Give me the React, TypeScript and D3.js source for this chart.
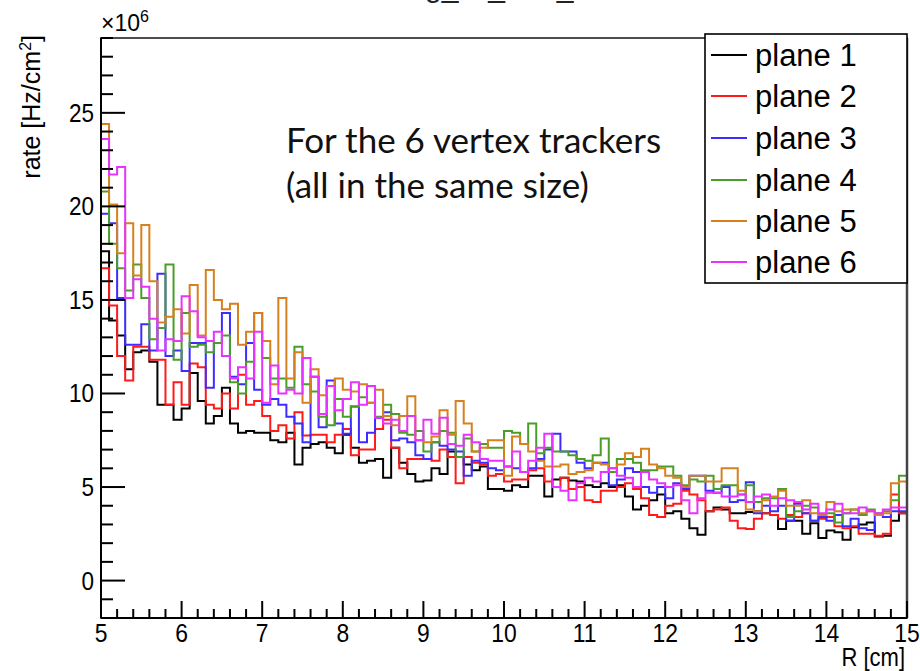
import React from 'react';
import * as d3 from 'd3';

const X_MIN = 5;
const X_MAX = 15;
const Y_MIN = -2;
const Y_MAX = 29;
const BIN_WIDTH = 0.1;
const X_MAJOR_TICKS = [5, 6, 7, 8, 9, 10, 11, 12, 13, 14, 15];
const Y_MAJOR_TICKS = [0, 5, 10, 15, 20, 25];
const Y_TICK_LABELS = ['0', '5', '10', '15', '20', '25'];
const SERIES_NAMES = ['plane 1', 'plane 2', 'plane 3', 'plane 4', 'plane 5', 'plane 6'];
const SERIES_COLORS = ['#000000', '#ff1a1a', '#3d2cff', '#4a9e28', '#d7801f', '#e832ff'];

// values in units of 1e6 Hz/cm^2, 100 bins of 0.1 cm from R = 5 to 15
const plane1 = [
  17.6, 13.9, 13.1, 11.3, 12.2, 12.3, 11.7, 9.4, 9.4, 8.6, 9.2, 11.1, 9.6, 8.4, 8.8, 10.3, 8.4, 7.9, 8.0, 7.9,
  7.9, 7.5, 7.4, 7.9, 6.2, 7.1, 7.3, 7.4, 7.1, 6.8, 7.8, 7.1, 6.3, 6.4, 6.5, 5.5, 7.1, 6.3, 5.7, 5.3,
  5.35, 6.0, 5.7, 6.9, 6.6, 6.2, 5.9, 6.1, 4.9, 4.9, 4.8, 5.1, 5.0, 5.6, 5.6, 4.5, 5.4, 5.5, 5.35, 5.3,
  5.1, 5.0, 5.2, 5.0, 5.1, 4.5, 3.8, 4.0, 4.3, 4.6, 3.6, 3.7, 3.3, 2.8, 2.45, 3.7, 3.9, 3.8, 3.6, 3.6,
  3.66, 3.7, 3.6, 3.5, 2.76, 3.2, 3.2, 2.5, 3.07, 2.28, 2.68, 2.58, 2.18, 2.85, 3.0, 3.1, 2.35, 2.4, 3.2, 3.6,
];
const plane2 = [
  16.7, 14.7, 12.0, 10.7, 12.5, 12.5, 11.8, 11.8, 9.4, 10.6, 9.4, 11.6, 11.4, 9.4, 9.2, 10.0, 9.2, 11.0, 9.4, 9.6,
  8.8, 8.0, 8.3, 7.6, 9.0, 7.75, 7.8, 7.8, 7.4, 7.8, 8.1, 6.7, 7.0, 7.0, 8.1, 8.6, 7.1, 6.0, 6.5, 6.5,
  6.5, 6.4, 7.0, 6.6, 5.2, 6.6, 6.3, 6.2, 5.6, 5.7, 5.3, 5.4, 5.4, 5.9, 6.0, 5.3, 5.0, 5.5, 4.9, 5.0,
  4.3, 4.2, 4.8, 4.8, 5.0, 5.2, 4.9, 4.4, 3.5, 3.4, 4.0, 4.1, 4.8, 4.6, 4.3, 3.7, 3.8, 3.9, 3.2, 2.8,
  2.76, 3.3, 3.6, 3.5, 3.3, 3.5, 3.4, 3.6, 3.2, 3.3, 3.4, 2.9, 2.8, 2.9, 2.5, 2.5, 2.4, 2.5, 4.6, 3.6,
];
const plane3 = [
  19.6, 19.1, 15.1, 12.6, 12.6, 13.7, 12.3, 16.4, 12.0, 12.3, 11.2, 12.7, 12.7, 10.3, 12.7, 14.3, 10.9, 10.5, 12.7, 10.2,
  9.4, 9.7, 9.4, 8.75, 8.4, 7.4, 10.9, 8.2, 10.7, 8.4, 7.85, 9.3, 7.4, 7.9, 8.7, 9.0, 7.5, 7.6, 7.4, 6.7,
  6.5, 7.4, 7.2, 7.0, 6.9, 5.6, 6.4, 6.3, 6.0, 5.9, 6.1, 6.0, 5.8, 6.0, 6.5, 7.0, 7.85, 6.9, 6.9, 6.3,
  6.0, 6.3, 6.3, 5.1, 5.4, 6.0, 5.8, 5.0, 4.7, 5.0, 4.4, 5.2, 4.9, 5.6, 5.6, 4.8, 4.7, 5.0, 4.2, 4.3,
  5.26, 3.6, 4.0, 3.7, 4.0, 3.2, 4.1, 3.6, 3.2, 3.4, 3.2, 3.5, 2.9, 3.3, 2.8, 2.7, 3.5, 3.4, 3.7, 3.7,
];
const plane4 = [
  20.8, 18.0, 16.7, 15.5, 16.9, 15.1, 12.9, 13.5, 16.9, 11.8, 14.3, 12.5, 12.6, 12.2, 12.7, 13.1, 10.6, 10.0, 11.7, 14.3,
  11.9, 10.8, 10.8, 10.3, 12.5, 10.5, 10.1, 8.75, 8.3, 9.7, 8.75, 9.3, 9.8, 9.5, 8.75, 9.4, 8.9, 7.9, 7.8, 8.0,
  6.9, 7.4, 8.0, 7.9, 6.6, 7.6, 6.9, 7.3, 7.1, 7.1, 8.0, 7.9, 7.3, 8.4, 6.8, 7.1, 6.9, 6.9, 6.7, 6.5,
  6.4, 6.7, 7.6, 5.8, 6.5, 6.5, 6.3, 5.9, 5.9, 6.1, 6.1, 5.6, 5.1, 5.4, 5.3, 5.6, 4.9, 5.1, 5.1, 4.6,
  5.1, 4.2, 4.4, 4.4, 4.9, 3.4, 3.7, 4.0, 3.9, 3.5, 3.6, 3.1, 3.6, 3.8, 3.5, 3.8, 3.6, 3.7, 4.3, 5.6,
];
const plane5 = [
  24.4, 20.1, 17.5, 19.1, 16.3, 19.0, 16.0, 13.8, 14.1, 14.5, 13.2, 15.8, 13.1, 16.6, 15.0, 14.5, 14.8, 12.6, 13.3, 14.3,
  12.8, 10.5, 15.1, 10.8, 12.2, 9.5, 11.3, 9.9, 10.4, 10.8, 10.2, 10.1, 10.5, 9.5, 10.2, 8.8, 8.3, 8.8, 9.85, 7.5,
  7.4, 7.7, 9.1, 7.8, 9.6, 8.4, 6.9, 7.1, 7.5, 7.5, 5.6, 7.7, 7.3, 6.9, 6.4, 6.1, 6.1, 6.2, 5.7, 5.8,
  5.9, 6.3, 6.2, 6.0, 6.2, 6.8, 6.6, 7.05, 6.2, 6.0, 5.6, 5.5, 5.0, 5.6, 5.6, 5.3, 5.3, 6.0, 6.0, 4.8,
  3.8, 3.7, 4.3, 4.5, 4.8, 4.0, 4.0, 4.3, 3.6, 3.5, 4.2, 3.7, 3.8, 3.8, 3.6, 3.7, 3.5, 3.6, 5.2, 5.3,
];
const plane6 = [
  23.6, 21.7, 22.1, 15.1, 16.1, 15.7, 14.0, 12.3, 12.9, 12.8, 15.2, 14.4, 13.0, 12.8, 13.3, 12.0, 10.8, 11.4, 10.8, 13.3,
  9.5, 11.5, 10.0, 10.2, 10.0, 11.9, 10.9, 8.9, 10.4, 9.1, 9.7, 10.6, 9.4, 10.4, 8.7, 8.4, 8.6, 8.0, 8.8, 7.5,
  8.6, 7.85, 8.7, 7.3, 7.2, 7.8, 7.4, 6.5, 6.4, 6.4, 6.1, 6.9, 5.8, 6.4, 7.1, 7.85, 5.0, 4.8, 4.3, 5.2,
  5.5, 5.3, 5.8, 6.0, 5.6, 5.5, 5.0, 5.8, 5.4, 5.2, 5.0, 5.1, 4.3, 3.6, 4.4, 4.7, 4.7, 4.5, 4.5, 4.6,
  4.2, 4.5, 4.6, 4.0, 4.4, 4.3, 4.2, 3.8, 4.1, 3.6, 3.8, 4.1, 3.6, 3.6, 3.9, 3.7, 3.6, 3.8, 3.9, 3.9,
];
const SERIES = [plane1, plane2, plane3, plane4, plane5, plane6];

const W = 920;
const H = 671;
const FRAME = { left: 101, right: 907, top: 38, bottom: 618 };

export default function App() {
  const x = d3.scaleLinear().domain([X_MIN, X_MAX]).range([FRAME.left, FRAME.right]);
  const y = d3.scaleLinear().domain([Y_MIN, Y_MAX]).range([FRAME.bottom, FRAME.top]);

  const line = d3
    .line<[number, number]>()
    .x((d) => x(d[0]))
    .y((d) => y(d[1]))
    .curve(d3.curveStepAfter);

  const paths = SERIES.map((vals) => {
    const pts: [number, number][] = vals.map((v, i) => [X_MIN + i * BIN_WIDTH, v]);
    pts.push([X_MAX, vals[vals.length - 1]]);
    return line(pts) || '';
  });

  const xMinor = d3.range(X_MIN, X_MAX + 0.001, 0.2).filter((t) => Math.abs(t - Math.round(t)) > 0.01);
  const yMinor = d3.range(Y_MIN, Y_MAX + 0.001, 1).filter((t) => t % 5 !== 0);

  const font = 'Liberation Sans, Arial, Helvetica, sans-serif';
  const legendRows = [55, 96, 138, 180, 221, 262];

  return (
    <svg width={W} height={H} style={{ position: 'absolute', left: 0, top: 0, background: '#fff' }}>
      <rect x={0} y={0} width={W} height={H} fill="#ffffff" />
      {/* title, cut by the top edge as in the reference */}
      <text x={505} y={-3} textAnchor="middle" fontFamily={font} fontSize={30} fill="#222">
        rg_vs_rate_R
      </text>

      {/* histograms */}
      <g fill="none" strokeWidth={2}>
        {paths.map((d, i) => (
          <path key={i} d={d} stroke={SERIES_COLORS[i]} strokeLinejoin="miter" />
        ))}
      </g>

      {/* frame */}
      <rect
        x={FRAME.left}
        y={FRAME.top}
        width={FRAME.right - FRAME.left}
        height={FRAME.bottom - FRAME.top}
        fill="none"
        stroke="#222"
        strokeWidth={1.6}
      />
      <line x1={FRAME.left} x2={FRAME.left} y1={FRAME.top} y2={FRAME.bottom} stroke="#000" strokeWidth={2} />
      <line x1={FRAME.left} x2={FRAME.right} y1={FRAME.bottom} y2={FRAME.bottom} stroke="#000" strokeWidth={2} />
      <line x1={FRAME.right} x2={FRAME.right} y1={FRAME.top} y2={FRAME.bottom} stroke="#444" strokeWidth={2.5} />

      {/* y ticks */}
      <g stroke="#000" strokeWidth={2}>
        {Y_MAJOR_TICKS.map((t) => (
          <line key={'ym' + t} x1={FRAME.left} x2={FRAME.left + 24} y1={y(t)} y2={y(t)} />
        ))}
        {yMinor.map((t) => (
          <line key={'yn' + t} x1={FRAME.left} x2={FRAME.left + 12} y1={y(t)} y2={y(t)} />
        ))}
      </g>
      {Y_MAJOR_TICKS.map((t, i) => (
        <text
          key={'yl' + t}
          transform={`translate(${FRAME.left - 7},${y(t) + 9}) scale(0.9,1)`}
          textAnchor="end"
          fontFamily={font}
          fontSize={25}
          fill="#000"
        >
          {Y_TICK_LABELS[i]}
        </text>
      ))}

      {/* x ticks */}
      <g stroke="#000" strokeWidth={2}>
        {X_MAJOR_TICKS.map((t) => (
          <line key={'xm' + t} x1={x(t)} x2={x(t)} y1={FRAME.bottom} y2={FRAME.bottom - 17} />
        ))}
        {xMinor.map((t) => (
          <line key={'xn' + t.toFixed(1)} x1={x(t)} x2={x(t)} y1={FRAME.bottom} y2={FRAME.bottom - 9} />
        ))}
      </g>
      {X_MAJOR_TICKS.map((t) => (
        <text
          key={'xl' + t}
          transform={`translate(${x(t)},${FRAME.bottom + 24}) scale(0.88,1)`}
          textAnchor="middle"
          fontFamily={font}
          fontSize={26}
          fill="#000"
        >
          {String(t)}
        </text>
      ))}

      {/* axis titles */}
      <text
        transform={`translate(${FRAME.right - 2},${H - 5}) scale(0.88,1)`}
        textAnchor="end"
        fontFamily={font}
        fontSize={25}
        fill="#000"
      >
        R [cm]
      </text>
      <text
        transform={`translate(40,35) rotate(-90)`}
        textAnchor="end"
        fontFamily={font}
        fontSize={25}
        fill="#000"
      >
        rate [Hz/cm<tspan dy={-9} fontSize={16}>2</tspan>
        <tspan dy={9}>]</tspan>
      </text>
      <text x={FRAME.left} y={31} fontFamily={font} fontSize={23} fill="#000">
        ×10<tspan dy={-9} fontSize={16}>6</tspan>
      </text>

      {/* annotation */}
      <text x={286} y={153} fontFamily="Lato, 'Open Sans', sans-serif" fontSize={35} fill="#111">
        For the 6 vertex trackers
      </text>
      <text x={286} y={198} fontFamily="Lato, 'Open Sans', sans-serif" fontSize={35} fill="#111">
        (all in the same size)
      </text>

      {/* legend */}
      <rect x={705} y={34} width={202} height={249} fill="#fff" stroke="#000" strokeWidth={1.6} />
      {SERIES_NAMES.map((name, i) => (
        <g key={name}>
          <line x1={711} x2={747} y1={legendRows[i]} y2={legendRows[i]} stroke={SERIES_COLORS[i]} strokeWidth={2} />
          <text x={755} y={legendRows[i] + 11} fontFamily={font} fontSize={31} fill="#000">
            {name}
          </text>
        </g>
      ))}
    </svg>
  );
}
